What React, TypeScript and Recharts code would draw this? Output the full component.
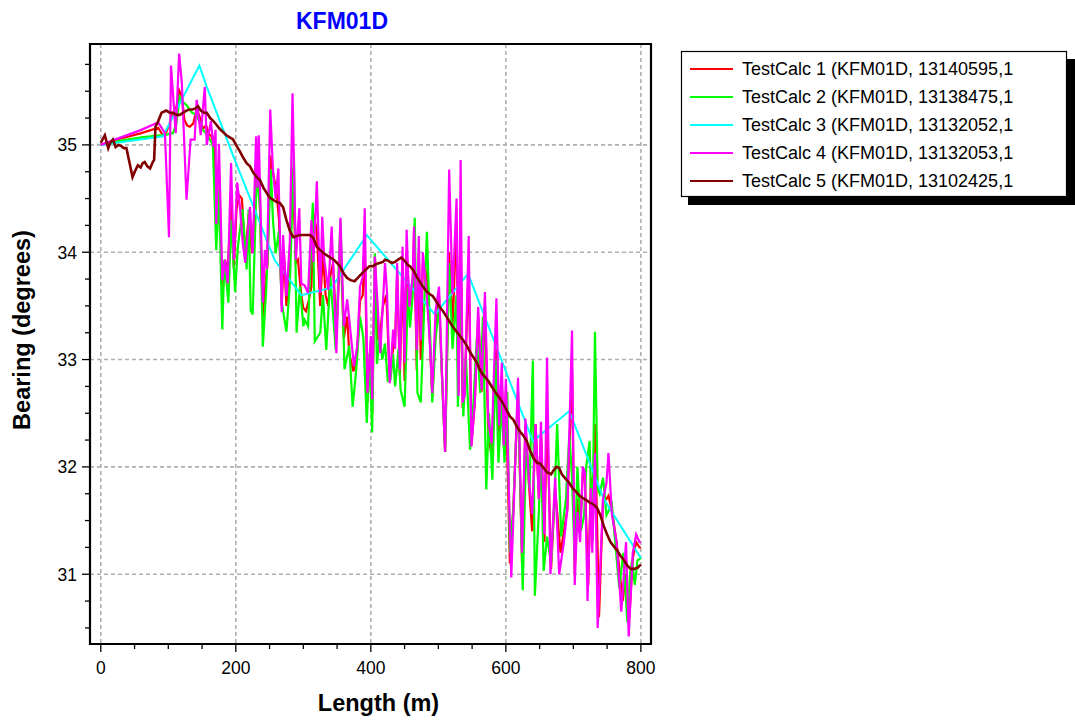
import React from 'react';
import { LineChart, Line, XAxis, YAxis, CartesianGrid, ReferenceArea, Label } from 'recharts';

const FONT = '"Liberation Sans", Arial, Helvetica, sans-serif';

const chartTitle = 'KFM01D';
const xAxisTitle = 'Length (m)';
const yAxisTitle = 'Bearing (degrees)';

const xDomain: [number, number] = [-16, 815];
const yDomain: [number, number] = [30.35, 35.94];
const xTicks = [0, 50, 100, 150, 200, 250, 300, 350, 400, 450, 500, 550, 600, 650, 700, 750, 800];
const xTickLabels = [0, 200, 400, 600, 800];
const yTicks = [30.5, 30.75, 31, 31.25, 31.5, 31.75, 32, 32.25, 32.5, 32.75, 33, 33.25, 33.5, 33.75, 34, 34.25, 34.5, 34.75, 35, 35.25, 35.5, 35.75];
const yTickLabels = [31, 32, 33, 34, 35];

const seriesNames = [
  'TestCalc 1 (KFM01D, 13140595,1',
  'TestCalc 2 (KFM01D, 13138475,1',
  'TestCalc 3 (KFM01D, 13132052,1',
  'TestCalc 4 (KFM01D, 13132053,1',
  'TestCalc 5 (KFM01D, 13102425,1',
];
const seriesColors = ['#FF0000', '#00FF00', '#00FFFF', '#FF00FF', '#800000'];
const seriesWidths = [2.2, 2.2, 2, 2.2, 2.6];

// [length (m), bearing (degrees)]
const testCalc1: [number, number][] = [
  [0,35.0],[30,35.06],[60,35.11],[85,35.16],[92,35.09],[97,35.12],[102,35.2],[107,35.3],[112,35.35],[116,35.51],
  [120,35.45],[124,35.23],[128,35.18],[132,35.17],[137,35.2],[142,35.34],[147,35.25],[151,35.15],[156,35.18],[160,35.1],
  [164,35.08],[168,35.0],[171,34.6],[175,34.8],[180,33.6],[184,33.93],[188,33.8],[193,34.5],[197,33.85],[201,34.4],
  [205,34.53],[209,34.5],[214,33.95],[219,34.35],[224,33.99],[229,34.5],[231,34.78],[235,34.6],[240,33.4],[243,33.65],
  [247,33.9],[251,34.9],[255,34.74],[260,34.58],[264,34.3],[268,33.5],[271,34.0],[275,33.5],[280,33.95],[284,34.78],
  [289,33.9],[292,33.93],[297,33.6],[300,33.48],[304,33.45],[308,33.55],[312,33.68],[315,34.36],[320,34.2],[325,33.5],
  [329,34.0],[333,33.6],[337,33.5],[340,33.78],[344,33.9],[349,33.25],[355,34.1],[360,33.2],[365,33.4],[368,33.06],
  [374,32.89],[379,33.0],[384,33.55],[388,33.6],[391,34.1],[395,32.6],[400,33.1],[402,32.5],[406,33.96],[410,33.19],
  [413,33.19],[418,33.5],[423,33.6],[428,32.8],[432,33.06],[436,33.2],[439,33.8],[443,32.85],[447,33.9],[450,32.8],
  [453,34.0],[457,33.5],[462,33.7],[464,34.2],[468,32.9],[471,34.0],[474,33.0],[477,33.9],[483,33.8],[488,33.1],
  [491,32.65],[496,33.3],[501,33.6],[505,32.9],[510,32.14],[516,34.0],[521,33.3],[527,34.3],[530,32.7],[533,34.3],
  [536,32.55],[539,32.7],[545,33.9],[549,32.2],[554,32.6],[559,33.4],[564,32.7],[569,33.5],[574,32.3],[579,32.1],
  [586,33.2],[590,32.3],[594,32.8],[597,32.2],[600,32.7],[606,31.1],[611,31.6],[618,32.7],[624,31.1],[629,32.4],
  [634,31.85],[639,31.4],[644,32.4],[649,31.7],[652,32.3],[657,31.3],[661,32.5],[667,31.05],[673,31.8],[681,31.2],
  [686,31.4],[691,31.6],[698,32.9],[702,31.0],[706,31.7],[710,31.4],[714,31.95],[717,31.9],[722,30.9],[726,31.9],
  [728,31.3],[732,32.4],[738,30.6],[744,31.7],[749,31.7],[752,31.73],[757,31.6],[764,31.3],[773,30.75],[778,31.0],
  [783,30.6],[788,31.15],[793,31.3],[798,31.25],[800,31.25],
];

const testCalc2: [number, number][] = [
  [0,35.0],[30,35.04],[60,35.07],[88,35.09],[95,35.09],[100,35.1],[107,35.11],[112,35.2],[117,35.45],[122,35.4],
  [127,35.37],[135,35.3],[142,35.28],[150,35.15],[158,35.09],[166,35.0],[171,34.02],[175,34.58],[180,33.28],[183,33.93],
  [189,33.53],[193,34.3],[199,33.63],[203,34.05],[210,34.4],[216,33.84],[219,34.4],[222,33.46],[225,33.42],[231,34.74],
  [236,34.4],[240,33.12],[245,33.65],[252,34.77],[255,34.3],[259,33.99],[264,34.2],[268,33.53],[275,33.26],[280,33.7],
  [286,34.92],[290,33.25],[295,33.68],[300,33.31],[302,33.37],[307,33.31],[314,34.46],[317,33.17],[325,33.25],[329,33.6],
  [334,33.09],[340,33.77],[348,33.09],[355,34.3],[361,32.91],[368,33.13],[373,32.56],[378,32.88],[384,33.4],[389,33.2],
  [394,32.41],[398,33.06],[402,32.32],[406,33.99],[409,32.96],[413,33.22],[417,33.0],[421,33.15],[425,32.8],[429,32.81],
  [433,33.05],[436,32.75],[441,33.1],[444,32.72],[450,32.56],[455,33.66],[458,33.3],[462,33.6],[465,34.32],[469,32.69],
  [474,32.6],[478,33.3],[483,34.19],[488,33.2],[491,32.6],[496,33.2],[501,33.5],[505,32.9],[510,32.14],[516,33.9],
  [521,33.1],[527,33.6],[529,32.56],[533,33.9],[537,32.47],[541,33.0],[547,32.16],[552,32.6],[557,33.2],[562,32.69],
  [566,33.4],[571,31.79],[575,32.5],[580,31.88],[585,33.0],[589,32.04],[594,32.6],[598,32.04],[602,32.7],[606,31.2],
  [611,31.6],[618,32.7],[625,30.85],[630,32.2],[635,31.8],[640,32.99],[643,30.8],[649,31.6],[652,32.2],[656,31.03],
  [661,31.35],[667,31.1],[672,31.7],[676,32.4],[682,31.35],[689,31.7],[694,32.3],[698,31.9],[702,31.1],[706,32.0],
  [711,31.4],[716,31.55],[719,32.0],[724,32.24],[728,31.3],[732,33.26],[736,31.8],[739,31.75],[744,31.9],[749,31.55],
  [753,31.6],[757,31.65],[762,31.3],[768,30.87],[774,31.2],[780,30.55],[784,31.0],[787,31.13],[791,30.9],[795,31.13],
  [800,31.15],
];

const testCalc3: [number, number][] = [
  [0,35.0],[92,35.08],[146,35.74],[157,35.54],[196,34.9],[258,33.92],[297,33.6],[342,33.67],[394,34.16],[495,33.42],
  [544,33.8],[640,32.24],[694,32.52],[745,31.7],[800,31.15],
];

const testCalc4: [number, number][] = [
  [0,35.0],[30,35.07],[60,35.14],[85,35.21],[95,35.11],[101,34.14],[104,35.74],[111,35.11],[116,35.85],[120,35.58],
  [127,34.49],[133,35.05],[139,35.05],[142,35.42],[148,35.09],[154,35.54],[157,35.0],[163,35.22],[167,34.98],[170,35.14],
  [171,34.26],[175,35.01],[180,33.74],[184,33.93],[188,33.71],[193,34.83],[197,33.93],[202,34.65],[206,34.43],[210,34.1],
  [214,33.9],[221,34.42],[225,33.99],[230,35.08],[232,34.6],[234,35.09],[240,33.53],[243,34.02],[246,33.84],[251,35.33],
  [255,34.77],[259,34.5],[263,34.78],[268,33.44],[270,34.16],[275,33.59],[280,34.1],[284,35.48],[289,33.93],[294,34.41],
  [297,33.71],[302,33.69],[307,33.62],[312,34.3],[315,33.91],[320,34.66],[325,33.62],[328,34.33],[331,33.93],[337,33.65],
  [342,34.24],[349,33.06],[355,34.32],[360,33.31],[365,33.56],[370,33.25],[375,32.94],[380,33.13],[384,33.68],[388,33.77],
  [391,34.41],[395,32.69],[400,33.22],[402,32.63],[406,33.96],[411,33.4],[414,33.06],[421,33.9],[424,33.62],[428,32.78],
  [433,33.28],[436,33.1],[439,33.9],[443,32.91],[447,34.05],[450,32.97],[453,34.21],[457,33.49],[462,33.77],[464,34.24],
  [468,33.09],[471,34.15],[474,33.18],[477,34.0],[483,33.59],[488,33.09],[491,32.69],[496,33.46],[501,33.68],[505,32.94],
  [510,32.14],[516,34.77],[521,33.61],[527,34.5],[530,32.66],[533,34.86],[536,32.6],[539,32.66],[545,34.15],[549,32.19],
  [554,32.6],[559,33.49],[564,32.72],[569,33.63],[574,32.44],[579,32.22],[586,33.57],[590,32.39],[594,32.97],[597,32.2],
  [600,32.82],[608,30.97],[611,31.5],[618,32.83],[624,31.2],[629,32.45],[634,31.9],[639,31.56],[644,32.4],[649,31.7],
  [652,32.42],[657,31.37],[661,33.02],[666,31.0],[673,31.9],[679,31.0],[686,31.3],[691,31.6],[698,33.27],[702,30.9],
  [706,31.58],[710,31.3],[714,32.0],[717,31.95],[721,30.75],[726,31.8],[728,31.2],[732,32.13],[736,30.5],[744,31.7],
  [749,31.85],[752,32.13],[757,31.56],[764,31.3],[771,30.65],[778,31.3],[782,30.42],[788,31.2],[793,31.37],[798,31.3],
  [800,31.3],
];

const testCalc5: [number, number][] = [
  [0,35.02],[6,35.09],[11,34.97],[14,35.02],[18,35.05],[22,34.98],[26,35.0],[30,34.99],[34,34.97],[38,34.97],
  [42,34.85],[47,34.7],[51,34.76],[55,34.81],[59,34.79],[62,34.83],[65,34.84],[69,34.8],[73,34.78],[77,34.84],
  [79,34.86],[81,35.17],[85,35.22],[90,35.3],[97,35.32],[102,35.3],[107,35.3],[112,35.28],[117,35.28],[122,35.3],
  [127,35.32],[131,35.33],[136,35.33],[140,35.34],[144,35.36],[148,35.32],[153,35.3],[157,35.3],[162,35.25],[167,35.22],
  [171,35.19],[176,35.15],[181,35.12],[186,35.09],[191,35.07],[196,35.05],[201,34.99],[206,34.94],[211,34.88],[216,34.83],
  [221,34.8],[226,34.74],[231,34.7],[236,34.67],[241,34.6],[246,34.55],[250,34.51],[255,34.49],[260,34.47],[265,34.46],
  [270,34.42],[275,34.3],[280,34.2],[285,34.14],[290,34.15],[295,34.16],[300,34.16],[305,34.16],[310,34.16],[315,34.13],
  [320,34.05],[325,34.02],[330,33.99],[335,33.97],[340,33.95],[345,33.93],[350,33.9],[355,33.86],[360,33.8],[365,33.76],
  [370,33.74],[376,33.73],[382,33.77],[388,33.81],[393,33.84],[398,33.87],[403,33.87],[408,33.89],[413,33.9],[418,33.91],
  [421,33.93],[426,33.92],[431,33.9],[436,33.91],[440,33.93],[445,33.95],[450,33.92],[455,33.88],[458,33.87],[463,33.83],
  [468,33.77],[473,33.72],[477,33.68],[482,33.64],[487,33.61],[492,33.59],[497,33.54],[502,33.49],[507,33.45],[512,33.4],
  [517,33.35],[522,33.3],[527,33.26],[532,33.22],[537,33.18],[542,33.13],[547,33.07],[552,33.02],[557,32.97],[562,32.9],
  [566,32.86],[569,32.84],[574,32.8],[580,32.74],[585,32.69],[591,32.64],[596,32.59],[601,32.53],[606,32.47],[611,32.44],
  [616,32.38],[621,32.33],[626,32.29],[631,32.24],[636,32.15],[641,32.08],[646,32.04],[651,32.03],[656,31.99],[661,31.95],
  [667,31.93],[671,31.97],[675,32.0],[679,31.99],[683,31.93],[687,31.9],[690,31.88],[694,31.85],[699,31.8],[704,31.77],
  [709,31.73],[714,31.71],[719,31.69],[724,31.67],[730,31.65],[735,31.62],[740,31.55],[745,31.45],[750,31.37],[755,31.3],
  [760,31.26],[765,31.22],[770,31.17],[775,31.13],[780,31.08],[785,31.05],[790,31.05],[795,31.06],[800,31.09],
];

const allSeries = [testCalc1, testCalc2, testCalc3, testCalc4, testCalc5];

const toRows = (pts: [number, number][]) => pts.map(([length, bearing]) => ({ length, bearing }));

const TICK_SIZE = 8;
const TICK_MARGIN = 5;

const XTick = (props: any) => {
  const { x, y, payload } = props;
  const axisY = y - TICK_SIZE - TICK_MARGIN;
  const major = xTickLabels.includes(payload.value);
  return (
    <g>
      <line x1={x} x2={x} y1={axisY} y2={axisY + (major ? 8 : 5)} stroke="#000" strokeWidth={1.3} />
      {major && (
        <text x={x} y={axisY + 30} textAnchor="middle" fontSize={17.5} fontFamily={FONT} fill="#000">
          {payload.value}
        </text>
      )}
    </g>
  );
};

const YTick = (props: any) => {
  const { x, y, payload } = props;
  const axisX = x + TICK_SIZE + TICK_MARGIN;
  const major = yTickLabels.includes(payload.value);
  return (
    <g>
      <line x1={axisX - (major ? 8 : 5)} x2={axisX} y1={y} y2={y} stroke="#000" strokeWidth={1.3} />
      {major && (
        <text x={axisX - 13} y={y} dy="0.36em" textAnchor="end" fontSize={17.5} fontFamily={FONT} fill="#000">
          {payload.value}
        </text>
      )}
    </g>
  );
};

const XTitle = (props: any) => {
  const vb = props.viewBox || { x: 90, y: 644, width: 561, height: 30 };
  return (
    <text x={vb.x + vb.width / 2 + 8} y={vb.y + 67} textAnchor="middle" fontSize={23.5} fontWeight="bold" fontFamily={FONT} fill="#000">
      {xAxisTitle}
    </text>
  );
};

const YTitle = (props: any) => {
  const vb = props.viewBox || { x: 30, y: 44, width: 60, height: 600 };
  const cx = vb.x - 0.5;
  const cy = vb.y + vb.height / 2 - 14;
  return (
    <text transform={`translate(${cx},${cy}) rotate(-90)`} x={0} y={0} textAnchor="middle" fontSize={23.5} fontWeight="bold" fontFamily={FONT} fill="#000">
      {yAxisTitle}
    </text>
  );
};

export default function App() {
  return (
    <div style={{ position: 'absolute', left: 0, top: 0, width: 1075, height: 724, background: '#fff', fontFamily: FONT }}>
      <LineChart width={1075} height={724} margin={{ top: 44, right: 424, bottom: 50, left: 30 }}>
        <CartesianGrid
          stroke="#b0b0b0"
          strokeWidth={1.6}
          strokeDasharray="4 3"
          verticalValues={xTickLabels}
          horizontalValues={yTickLabels}
        />
        <XAxis
          type="number"
          dataKey="length"
          domain={xDomain}
          allowDataOverflow
          ticks={xTicks}
          interval={0}
          height={30}
          axisLine={false}
          tickLine={false}
          tickSize={TICK_SIZE}
          tickMargin={TICK_MARGIN}
          tick={<XTick />}
        >
          <Label content={<XTitle />} />
        </XAxis>
        <YAxis
          type="number"
          dataKey="bearing"
          domain={yDomain}
          allowDataOverflow
          ticks={yTicks}
          interval={0}
          width={60}
          axisLine={false}
          tickLine={false}
          tickSize={TICK_SIZE}
          tickMargin={TICK_MARGIN}
          tick={<YTick />}
        >
          <Label content={<YTitle />} />
        </YAxis>
        {allSeries.map((s, i) => (
          <Line
            key={seriesNames[i]}
            data={toRows(s)}
            dataKey="bearing"
            type="linear"
            stroke={seriesColors[i]}
            strokeWidth={seriesWidths[i]}
            dot={false}
            activeDot={false}
            isAnimationActive={false}
          />
        ))}
        <ReferenceArea
          x1={xDomain[0]}
          x2={xDomain[1]}
          y1={yDomain[0]}
          y2={yDomain[1]}
          fill="none"
          fillOpacity={0}
          stroke="#000"
          strokeWidth={2.2}
          ifOverflow="visible"
        />
      </LineChart>
      <svg width={1075} height={724} style={{ position: 'absolute', left: 0, top: 0, pointerEvents: 'none' }}>
        <text x={342} y={29} textAnchor="middle" fontSize={23} fontWeight="bold" fontFamily={FONT} fill="#0000FF">
          {chartTitle}
        </text>
        <rect x={688} y={59} width={387} height={146} fill="#000" />
        <rect x={681.5} y={51.5} width={385} height={145} fill="#fff" stroke="#000" strokeWidth={1.2} />
        {seriesNames.map((n, i) => (
          <g key={n}>
            <line x1={690} x2={733} y1={69 + 28 * i} y2={69 + 28 * i} stroke={seriesColors[i]} strokeWidth={2} />
            <text x={742} y={69 + 28 * i} dy="0.36em" fontSize={18} fontFamily={FONT} fill="#000">
              {n}
            </text>
          </g>
        ))}
      </svg>
    </div>
  );
}
